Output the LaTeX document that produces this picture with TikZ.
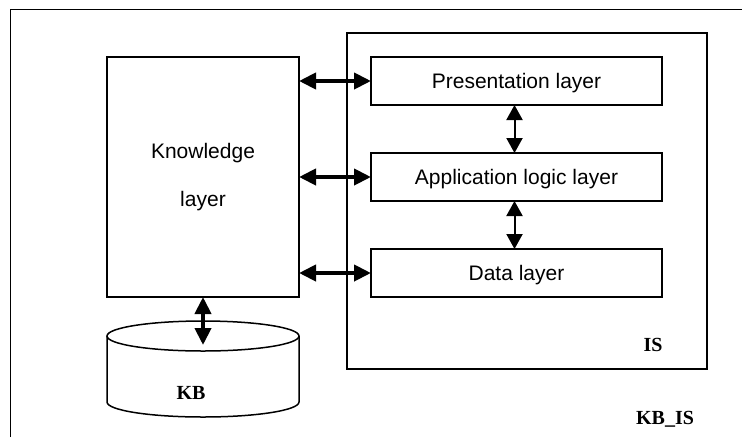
\documentclass[tikz,border=0pt]{standalone}
\usepackage{fontspec}
\setmainfont{Liberation Serif}
\setsansfont{Liberation Sans}
\usetikzlibrary{arrows.meta}
\tikzset{
  box/.style={draw, line width=1.5pt, rectangle, outer sep=0pt, inner sep=0pt},
  layerbox/.style={box, minimum width=291pt, minimum height=48pt,
    font=\sffamily\fontsize{21}{25}\selectfont, text height=15pt, text depth=0pt},
  bigarrow/.style={line width=4pt, {Triangle[length=17pt,width=16pt]}-{Triangle[length=17pt,width=16pt]}},
  smallarrow/.style={line width=2pt, {Triangle[length=15pt,width=16pt]}-{Triangle[length=15pt,width=16pt]}},
  boldlab/.style={font=\bfseries\fontsize{20}{24}\selectfont, inner sep=0pt, anchor=base}
}
\begin{document}
\begin{tikzpicture}[x=1pt,y=1pt]
\useasboundingbox (0,0) rectangle (743,-437);
% outer frame (clipped at right and bottom)
\draw[line width=1.5pt] (10.5,-437) -- (10.5,-9.5) -- (742,-9.5);
% IS container
\node[box, minimum width=360pt, minimum height=336pt] (is) at (527,-201) {};
% Knowledge layer
\node[box, minimum width=192pt, minimum height=240pt, align=center,
      font=\sffamily\fontsize{21}{48}\selectfont] (know) at (203,-177) {Knowledge\\layer};
% layers
\node[layerbox] (pres) at (516.5,-81) {Presentation layer};
\node[layerbox] (app) at (516.5,-177) {Application logic layer};
\node[layerbox] (data) at (516.5,-273) {Data layer};
% KB cylinder
\draw[line width=1.5pt] (107,-336) -- (107,-402)
  arc[start angle=180, end angle=360, x radius=96pt, y radius=15pt] -- (299,-336);
\draw[line width=1.5pt] (203,-336) ellipse [x radius=96pt, y radius=15pt];
\coordinate (kbtop) at (203,-345);
% labels
\node[boldlab] (kblab) at (191,-399) {KB};
\node[boldlab] (islab) at (653,-351) {IS};
\node[boldlab] (kbis) at (665,-424) {KB\_IS};
% connectors
\draw[bigarrow] (know.east |- pres.west) -- (pres.west);
\draw[bigarrow] (know.east |- app.west) -- (app.west);
\draw[bigarrow] (know.east |- data.west) -- (data.west);
\draw[smallarrow] ([xshift=-2pt]pres.south) -- ([xshift=-2pt]app.north);
\draw[smallarrow] ([xshift=-2pt]app.south) -- ([xshift=-2pt]data.north);
\draw[bigarrow] (know.south) -- (kbtop);
\end{tikzpicture}
\end{document}
